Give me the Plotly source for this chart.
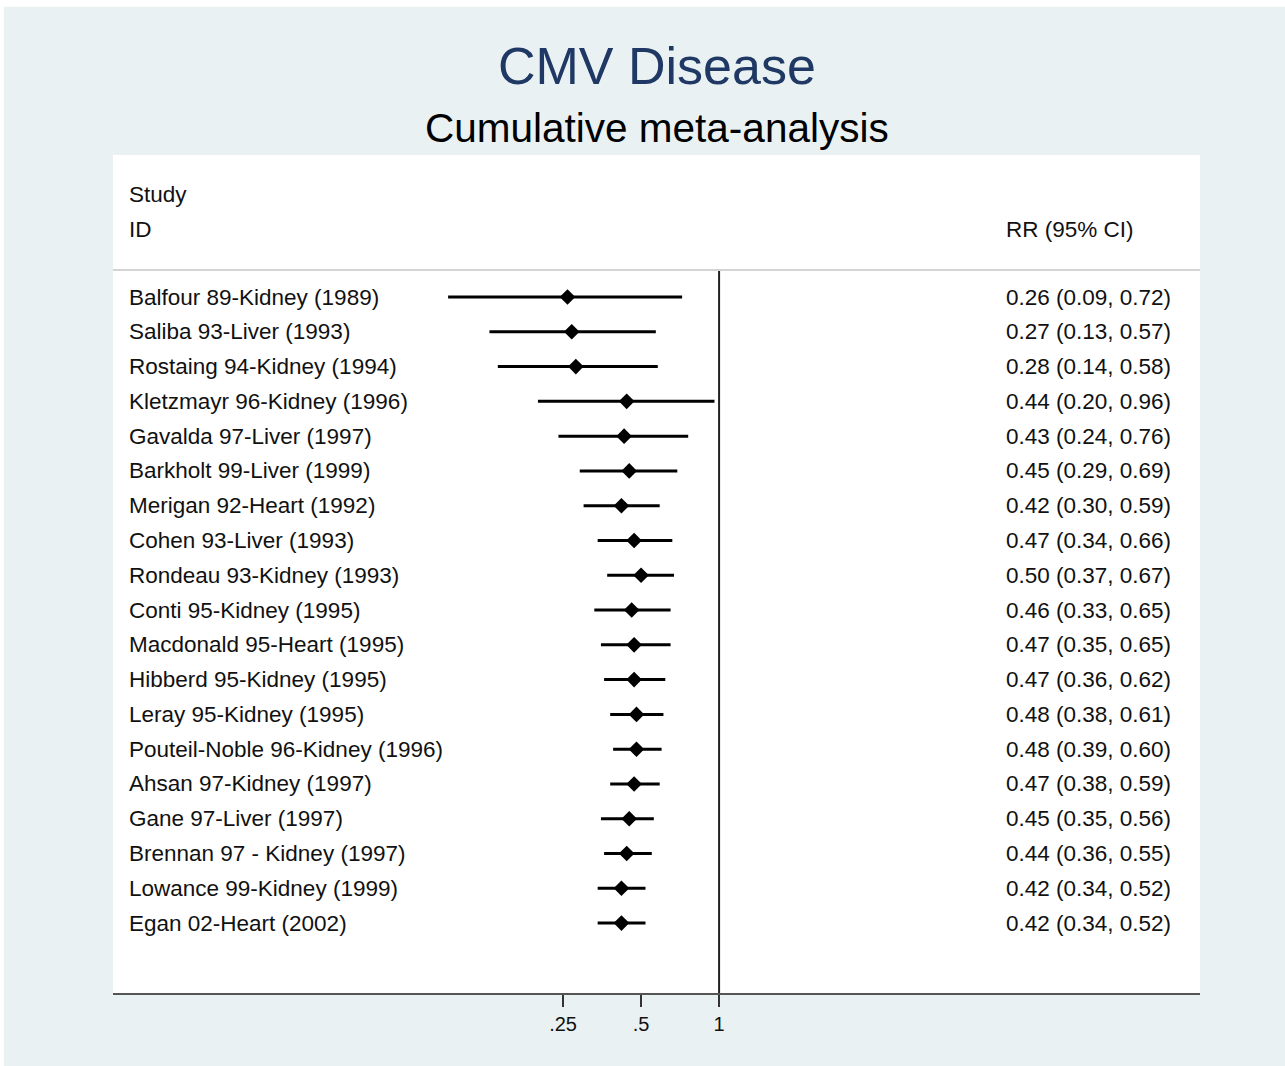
import plotly.graph_objects as go

# Cumulative meta-analysis of CMV disease (risk ratio, 95% CI)
studies = [
    "Balfour 89-Kidney (1989)",
    "Saliba 93-Liver (1993)",
    "Rostaing 94-Kidney (1994)",
    "Kletzmayr 96-Kidney (1996)",
    "Gavalda 97-Liver (1997)",
    "Barkholt 99-Liver (1999)",
    "Merigan 92-Heart (1992)",
    "Cohen 93-Liver (1993)",
    "Rondeau 93-Kidney (1993)",
    "Conti 95-Kidney (1995)",
    "Macdonald 95-Heart (1995)",
    "Hibberd 95-Kidney (1995)",
    "Leray 95-Kidney (1995)",
    "Pouteil-Noble 96-Kidney (1996)",
    "Ahsan 97-Kidney (1997)",
    "Gane 97-Liver (1997)",
    "Brennan 97 - Kidney (1997)",
    "Lowance 99-Kidney (1999)",
    "Egan 02-Heart (2002)",
]
rr = [0.26, 0.27, 0.28, 0.44, 0.43, 0.45, 0.42, 0.47, 0.50, 0.46,
      0.47, 0.47, 0.48, 0.48, 0.47, 0.45, 0.44, 0.42, 0.42]
ci_low = [0.09, 0.13, 0.14, 0.20, 0.24, 0.29, 0.30, 0.34, 0.37, 0.33,
          0.35, 0.36, 0.38, 0.39, 0.38, 0.35, 0.36, 0.34, 0.34]
ci_high = [0.72, 0.57, 0.58, 0.96, 0.76, 0.69, 0.59, 0.66, 0.67, 0.65,
           0.65, 0.62, 0.61, 0.60, 0.59, 0.56, 0.55, 0.52, 0.52]
tick_vals = [0.25, 0.5, 1]
tick_text = [".25", ".5", "1"]

FONT = "Liberation Sans, Arial, Helvetica, sans-serif"
TEXT = "#111111"
rows = list(range(1, len(studies) + 1))
sep_row = 0.224
y_top, y_bottom = -3.083, 21.01
label_x, value_x = 0.0125, 0.8197

fig = go.Figure()

# confidence interval segments
cx, cy = [], []
for r, lo, hi in zip(rows, ci_low, ci_high):
    cx += [lo, hi, None]
    cy += [r, r, None]
fig.add_trace(go.Scatter(x=cx, y=cy, mode="lines",
                         line=dict(color="black", width=3),
                         hoverinfo="skip", showlegend=False))

# point estimates
fig.add_trace(go.Scatter(x=rr, y=rows, mode="markers",
                         marker=dict(symbol="diamond", size=12, color="black"),
                         showlegend=False))

# line of no effect
fig.add_trace(go.Scatter(x=[1, 1], y=[sep_row, y_bottom], mode="lines",
                         line=dict(color="#222222", width=2),
                         hoverinfo="skip", showlegend=False, cliponaxis=False))

row_font = dict(family=FONT, size=22.5, color=TEXT)
annotations = []
for r, name, v, lo, hi in zip(rows, studies, rr, ci_low, ci_high):
    annotations.append(dict(x=label_x, xref="paper", y=r, yref="y", text=name,
                            showarrow=False, xanchor="left", yanchor="middle",
                            font=row_font))
    annotations.append(dict(x=value_x, xref="paper", y=r, yref="y",
                            text=f"{v:.2f} ({lo:.2f}, {hi:.2f})",
                            showarrow=False, xanchor="left", yanchor="middle",
                            font=row_font))

annotations += [
    dict(x=label_x, xref="paper", y=-1.96, yref="y", text="Study", showarrow=False,
         xanchor="left", yanchor="middle", font=row_font),
    dict(x=label_x, xref="paper", y=-0.955, yref="y", text="ID", showarrow=False,
         xanchor="left", yanchor="middle", font=row_font),
    dict(x=value_x, xref="paper", y=-0.955, yref="y", text="RR (95% CI)", showarrow=False,
         xanchor="left", yanchor="middle", font=row_font),
    dict(x=0.5, xref="paper", y=1.106, yref="paper", text="CMV Disease", showarrow=False,
         xanchor="center", yanchor="middle",
         font=dict(family=FONT, size=52, color="#1f3864")),
    dict(x=0.5, xref="paper", y=1.032, yref="paper", text="Cumulative meta-analysis",
         showarrow=False, xanchor="center", yanchor="middle",
         font=dict(family=FONT, size=40.5, color="black")),
]

shapes = [
    # header separator
    dict(type="line", xref="paper", yref="y", x0=0, x1=1, y0=sep_row, y1=sep_row,
         line=dict(color="#d4d4d4", width=2)),
    # thin white frame strips along the top and left edges
    dict(type="rect", xref="paper", yref="paper", x0=-0.2, x1=1.2,
         y0=1.177, y1=1.3, fillcolor="white", line=dict(width=0), layer="below"),
    dict(type="rect", xref="paper", yref="paper", x0=-0.2, x1=-0.1005,
         y0=-0.2, y1=1.3, fillcolor="white", line=dict(width=0), layer="below"),
]

fig.update_layout(
    width=1285, height=1066,
    margin=dict(l=113, r=85, t=155, b=73),
    paper_bgcolor="#eaf1f3",
    plot_bgcolor="white",
    showlegend=False,
    annotations=annotations,
    shapes=shapes,
    xaxis=dict(type="log", range=[-2.339, 1.856],
               tickvals=tick_vals, ticktext=tick_text,
               ticks="outside", ticklen=12, tickwidth=2, tickcolor="#333333",
               showline=True, linecolor="#555555", linewidth=2,
               showgrid=False, zeroline=False,
               tickfont=dict(family=FONT, size=20, color=TEXT)),
    yaxis=dict(range=[y_bottom, y_top], visible=False, showgrid=False, zeroline=False),
    font=dict(family=FONT),
)

fig.write_html("out.html")
